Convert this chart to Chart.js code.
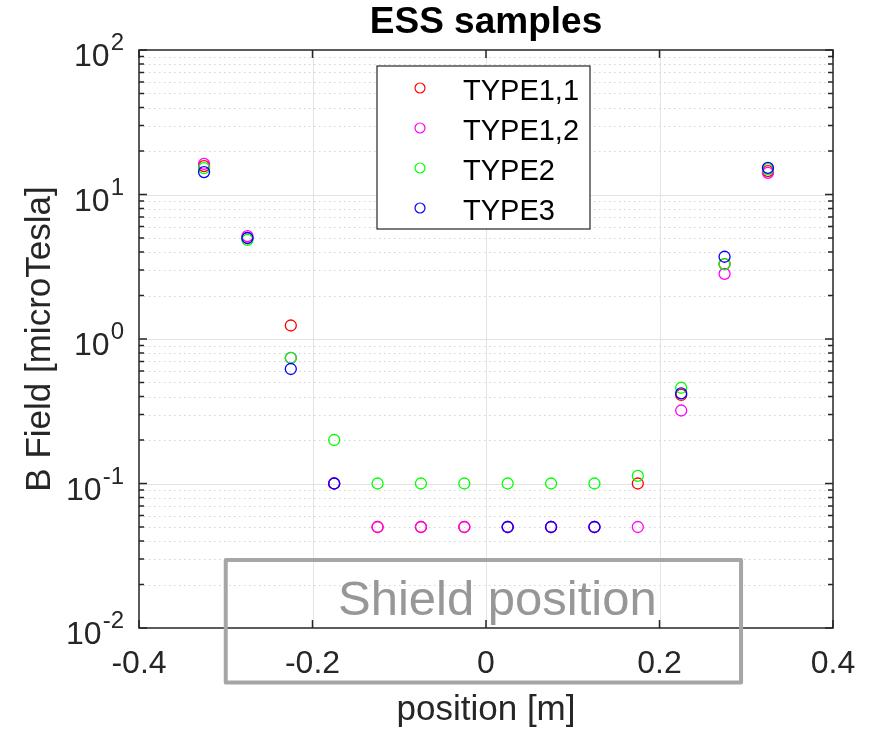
<!DOCTYPE html>
<html>
<head>
<meta charset="utf-8">
<script src="https://cdn.jsdelivr.net/npm/chart.js@4"></script>
<style>
  body { margin: 0; background: #fff; }
</style>
</head>
<body>
<canvas id="c" width="870" height="731"></canvas>
<script>
// positions along the shield [m]
const positions = [-0.325, -0.275, -0.225, -0.175, -0.125, -0.075, -0.025, 0.025, 0.075, 0.125, 0.175, 0.225, 0.275, 0.325];

// B field [microTesla], null = not plotted
const type11 = [15.7, 5.0, 1.24, 0.1, 0.05, 0.05, 0.05, 0.05, 0.05, 0.05, 0.1, 0.41, 3.3, 14.5];
const type12 = [16.3, 5.15, 0.74, 0.1, 0.05, 0.05, 0.05, 0.05, 0.05, 0.05, 0.05, 0.32, 2.82, 14.1];
const type2 = [15.2, 4.85, 0.74, 0.2, 0.1, 0.1, 0.1, 0.1, 0.1, 0.1, 0.113, 0.46, 3.3, 15.0];
const type3 = [14.3, 5.0, 0.62, 0.1, null, null, null, 0.05, 0.05, 0.05, null, 0.42, 3.71, 15.3];

const seriesNames = ['TYPE1,1', 'TYPE1,2', 'TYPE2', 'TYPE3'];
const seriesColors = ['#ff0000', '#ff00ff', '#00ff00', '#0000ff'];

const xTicks = [-0.4, -0.2, 0, 0.2, 0.4];
const xTickLabels = ['-0.4', '-0.2', '0', '0.2', '0.4'];
const yDecades = [0.01, 0.1, 1, 10, 100];
const yExponents = ['-2', '-1', '0', '1', '2'];

const FONT = '"Liberation Sans", Arial, sans-serif';
const INK = '#262626';

const toPoints = vals => positions.map((x, i) => ({ x: x, y: vals[i] })).filter(p => p.y !== null);

// grid lines, drawn before the markers
const gridPlugin = {
  id: 'matlabGrid',
  beforeDatasetsDraw(chart) {
    const { ctx, chartArea: a, scales: { x, y } } = chart;
    ctx.save();
    // minor dotted
    ctx.strokeStyle = '#d4d4d4';
    ctx.lineWidth = 1;
    ctx.setLineDash([1.5, 3.5]);
    for (let d = 0; d < yDecades.length - 1; d++) {
      for (let m = 2; m <= 9; m++) {
        const py = Math.round(y.getPixelForValue(yDecades[d] * m)) + 0.5;
        ctx.beginPath(); ctx.moveTo(a.left, py); ctx.lineTo(a.right, py); ctx.stroke();
      }
    }
    // major solid
    ctx.setLineDash([]);
    ctx.strokeStyle = '#e3e3e3';
    yDecades.slice(1, -1).forEach(v => {
      const py = Math.round(y.getPixelForValue(v)) + 0.5;
      ctx.beginPath(); ctx.moveTo(a.left, py); ctx.lineTo(a.right, py); ctx.stroke();
    });
    xTicks.slice(1, -1).forEach(v => {
      const px = Math.round(x.getPixelForValue(v)) + 0.5;
      ctx.beginPath(); ctx.moveTo(px, a.top); ctx.lineTo(px, a.bottom); ctx.stroke();
    });
    ctx.restore();
  },
  afterDraw(chart) {
    const { ctx, chartArea: a, scales: { x, y } } = chart;
    ctx.save();
    // axes box + inward ticks
    ctx.strokeStyle = INK;
    ctx.lineWidth = 1.5;
    ctx.strokeRect(a.left, a.top, a.right - a.left, a.bottom - a.top);
    ctx.beginPath();
    xTicks.forEach(v => {
      const px = x.getPixelForValue(v);
      ctx.moveTo(px, a.bottom); ctx.lineTo(px, a.bottom - 8);
      ctx.moveTo(px, a.top); ctx.lineTo(px, a.top + 8);
    });
    yDecades.forEach((v, d) => {
      const py = y.getPixelForValue(v);
      ctx.moveTo(a.left, py); ctx.lineTo(a.left + 8, py);
      ctx.moveTo(a.right, py); ctx.lineTo(a.right - 8, py);
      if (d < yDecades.length - 1) {
        for (let m = 2; m <= 9; m++) {
          const pm = y.getPixelForValue(v * m);
          ctx.moveTo(a.left, pm); ctx.lineTo(a.left + 5, pm);
          ctx.moveTo(a.right, pm); ctx.lineTo(a.right - 5, pm);
        }
      }
    });
    ctx.stroke();

    // x tick labels
    ctx.fillStyle = INK;
    ctx.font = '32px ' + FONT;
    ctx.textAlign = 'center';
    ctx.textBaseline = 'alphabetic';
    xTicks.forEach((v, i) => ctx.fillText(xTickLabels[i], x.getPixelForValue(v), a.bottom + 45));

    // y tick labels 10^n
    yDecades.forEach((v, i) => {
      const py = y.getPixelForValue(v);
      ctx.font = '24px ' + FONT;
      const we = ctx.measureText(yExponents[i]).width;
      ctx.textAlign = 'left';
      const right = a.left - 15;
      ctx.fillText(yExponents[i], right - we, py);
      ctx.font = '32px ' + FONT;
      ctx.textAlign = 'right';
      ctx.fillText('10', right - we - 1, py + 16);
    });

    // axis titles
    ctx.font = '35px ' + FONT;
    ctx.textAlign = 'center';
    ctx.fillText('position [m]', (a.left + a.right) / 2, 720);
    ctx.save();
    ctx.translate(50, (a.top + a.bottom) / 2);
    ctx.rotate(-Math.PI / 2);
    ctx.fillText('B Field [microTesla]', 0, 0);
    ctx.restore();

    // title
    ctx.fillStyle = '#000';
    ctx.font = 'bold 37px ' + FONT;
    ctx.fillText('ESS samples', (a.left + a.right) / 2, 33);

    // legend
    const lx = 377, ly = 66, lw = 213, lh = 163;
    ctx.fillStyle = '#fff';
    ctx.fillRect(lx, ly, lw, lh);
    ctx.strokeStyle = INK;
    ctx.lineWidth = 1.2;
    ctx.strokeRect(lx, ly, lw, lh);
    chart.data.datasets.forEach((ds, i) => {
      const cy = 88 + i * 40;
      ctx.strokeStyle = ds.borderColor;
      ctx.lineWidth = 1.2;
      ctx.beginPath(); ctx.arc(420, cy, 5, 0, Math.PI * 2); ctx.stroke();
      ctx.fillStyle = '#000';
      ctx.font = '29px ' + FONT;
      ctx.textAlign = 'left';
      ctx.fillText(ds.label, 463, cy + 12);
    });

    // shield position annotation
    const sx0 = x.getPixelForValue(-0.3), sx1 = x.getPixelForValue(0.294);
    const sy0 = y.getPixelForValue(0.0296), sy1 = y.getPixelForValue(0.0042);
    ctx.strokeStyle = '#a6a6a6';
    ctx.lineWidth = 4;
    ctx.lineJoin = 'round';
    ctx.strokeRect(sx0, sy0, sx1 - sx0, sy1 - sy0);
    ctx.fillStyle = '#979797';
    ctx.font = '49px ' + FONT;
    ctx.textAlign = 'center';
    ctx.fillText('Shield position', (sx0 + sx1) / 2 + 14, 615);
    ctx.restore();
  }
};

// later series are plotted on top (lower order = drawn last in Chart.js)
const datasets = [type11, type12, type2, type3].map((vals, i) => ({
  label: seriesNames[i],
  data: toPoints(vals),
  borderColor: seriesColors[i],
  backgroundColor: 'rgba(0,0,0,0)',
  pointRadius: 5.5,
  pointBorderWidth: 1.3,
  showLine: false,
  order: 3 - i
}));

new Chart(document.getElementById('c'), {
  type: 'scatter',
  data: { datasets: datasets },
  options: {
    responsive: false,
    animation: false,
    layout: { padding: { top: 50, right: 37, left: 0, bottom: 0 } },
    plugins: { legend: { display: false }, title: { display: false }, tooltip: { enabled: false } },
    scales: {
      x: {
        type: 'linear', min: -0.4, max: 0.4,
        ticks: { display: false }, grid: { display: false }, border: { display: false },
        afterFit: s => { s.height = 103; }
      },
      y: {
        type: 'logarithmic', min: 0.01, max: 100,
        ticks: { display: false }, grid: { display: false }, border: { display: false },
        afterFit: s => { s.width = 139; }
      }
    }
  },
  plugins: [gridPlugin]
});
</script>
</body>
</html>
